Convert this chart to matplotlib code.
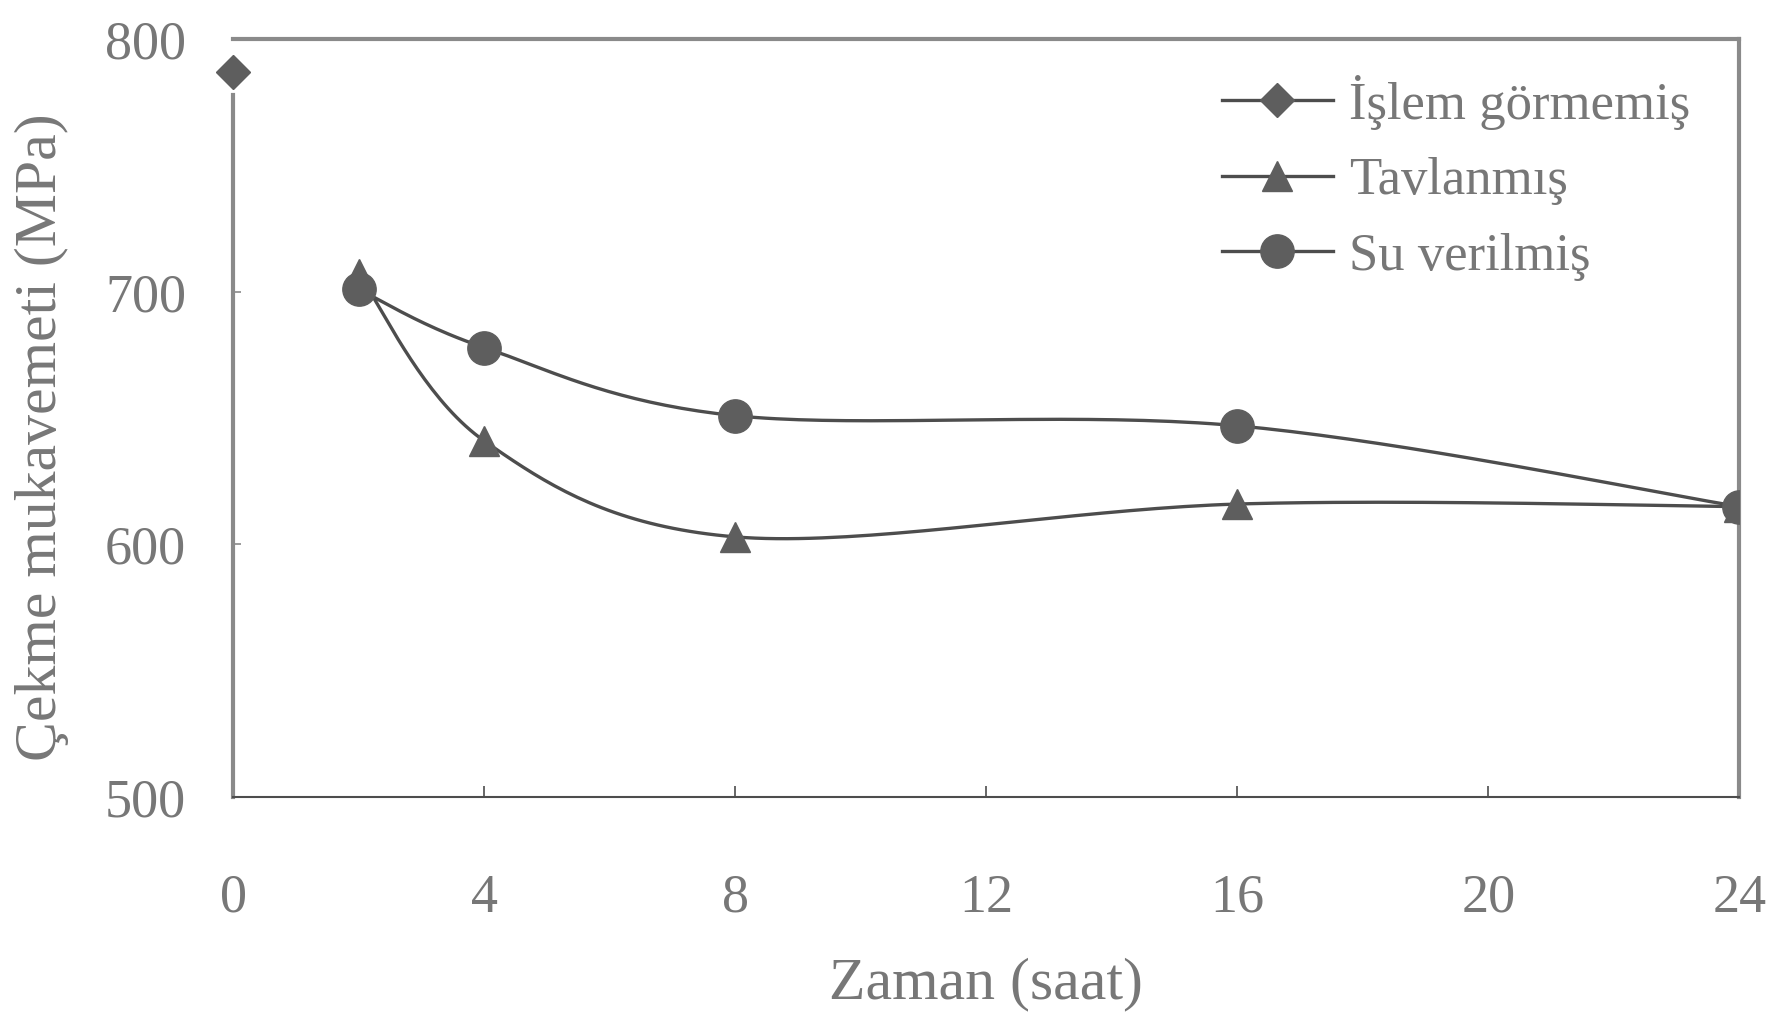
import numpy as np
import matplotlib.pyplot as plt

plt.rcParams['font.family'] = ['Liberation Serif', 'DejaVu Serif']

# veriler
x_islem = [0]
y_islem = [787]
x_tav = [2, 4, 8, 16, 24]
y_tav = [707, 641, 603, 616, 615]
x_su = [2, 4, 8, 16, 24]
y_su = [701, 678, 651, 647, 615]
xticks = [0, 4, 8, 12, 16, 20, 24]
yticks = [500, 600, 700, 800]


# Excel tarzi yumusak cizgi (bezier)
def smooth(xs, ys, sx=55.6, sy=2.23, n=40):
    p = np.column_stack([np.array(xs) * sx, np.array(ys) * sy])
    out = []
    for i in range(len(p) - 1):
        p0 = p[max(i - 1, 0)]
        p1 = p[i]
        p2 = p[i + 1]
        p3 = p[min(i + 2, len(p) - 1)]
        c1 = p1 + (p2 - p0) / 6
        c2 = p2 - (p3 - p1) / 6
        t = np.linspace(0, 1, n)[:, None]
        seg = (1 - t)**3 * p1 + 3 * (1 - t)**2 * t * c1 + 3 * (1 - t) * t**2 * c2 + t**3 * p2
        out.append(seg)
    out = np.vstack(out)
    return out[:, 0] / sx, out[:, 1] / sy


fig = plt.figure(figsize=(17.71, 10.25), dpi=100)
ax = fig.add_axes([0.1317, 0.2225, 0.8504, 0.739])

lc = '#4d4d4d'
mc = '#5e5e5e'
gray = '#8a8a8a'
tc = '#777777'

xs, ys = smooth(x_tav, y_tav)
ax.plot(xs, ys, color=lc, lw=2.4, zorder=3)
ax.plot(x_tav, y_tav, ls='none', marker='^', ms=22, color=mc, zorder=4)
xs, ys = smooth(x_su, y_su)
ax.plot(xs, ys, color=lc, lw=2.4, zorder=3)
ax.plot(x_su, y_su, ls='none', marker='o', ms=24, color=mc, zorder=4)
ax.plot(x_islem, y_islem, ls='none', marker='D', ms=17, color=mc, zorder=5, clip_on=False)

# legend icin
h1, = ax.plot([], [], color=lc, lw=2.4, marker='D', ms=17, mfc=mc, mec=mc)
h2, = ax.plot([], [], color=lc, lw=2.4, marker='^', ms=22, mfc=mc, mec=mc)
h3, = ax.plot([], [], color=lc, lw=2.4, marker='o', ms=24, mfc=mc, mec=mc)
leg = fig.legend([h1, h2, h3], ['İşlem görmemiş', 'Tavlanmış', 'Su verilmiş'],
                 loc='upper left', bbox_to_anchor=(0.69, 0.927), frameon=False,
                 fontsize=38, handlelength=2.1, handletextpad=0.3, labelspacing=0.52,
                 borderpad=0, borderaxespad=0)
for t in leg.get_texts():
    t.set_color(tc)

ax.set_xlim(0, 24)
ax.set_ylim(500, 800)
ax.set_xticks(xticks)
ax.set_yticks(yticks)
ax.tick_params(axis='x', direction='in', length=8, width=1.2, color=lc, pad=55, labelsize=39, labelcolor=tc)
ax.tick_params(axis='y', direction='in', length=6, width=1.2, color=gray, pad=34, labelsize=39, labelcolor=tc)

for s in ['top', 'right', 'left']:
    ax.spines[s].set_color(gray)
    ax.spines[s].set_linewidth(3)
ax.spines['left'].set_bounds(500, 778)
ax.spines['bottom'].set_color(lc)
ax.spines['bottom'].set_linewidth(1.5)

ax.set_xlabel('Zaman (saat)', fontsize=43, color=tc, labelpad=24)
ax.set_ylabel('Çekme mukavemeti (MPa)', fontsize=43, color=tc)
ax.yaxis.set_label_coords(-0.109, 0.475)

plt.savefig('out.png', dpi=100)
